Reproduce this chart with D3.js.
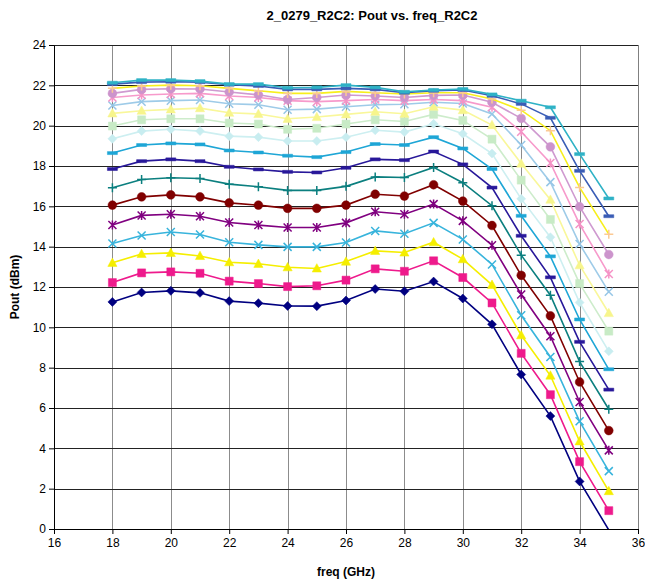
<!DOCTYPE html>
<html>
<head>
<meta charset="utf-8">
<script src="https://cdnjs.cloudflare.com/ajax/libs/d3/7.8.5/d3.min.js"></script>
<style>
  body { margin: 0; background: #fff; }
  text { font-family: "Liberation Sans", Arial, sans-serif; }
</style>
</head>
<body>
<div id="chart"></div>
<script>
// Step 1: data
// =================================
var freqs = [18, 19, 20, 21, 22, 23, 24, 25, 26, 27, 28, 29, 30, 31, 32, 33, 34, 35];
var xTicks = [16, 18, 20, 22, 24, 26, 28, 30, 32, 34, 36];
var yTicks = [0, 2, 4, 6, 8, 10, 12, 14, 16, 18, 20, 22, 24];

var s01 = [11.26, 11.73, 11.81, 11.71, 11.30, 11.20, 11.06, 11.05, 11.33, 11.90, 11.79, 12.27, 11.43, 10.15, 7.66, 5.60, 2.36, -0.05];
var s02 = [12.22, 12.70, 12.75, 12.68, 12.29, 12.17, 12.02, 12.06, 12.34, 12.90, 12.78, 13.30, 12.47, 11.21, 8.71, 6.66, 3.34, 0.91];
var s03 = [13.20, 13.64, 13.69, 13.54, 13.23, 13.15, 12.98, 12.92, 13.26, 13.79, 13.71, 14.22, 13.38, 12.11, 9.61, 7.61, 4.35, 1.88];
var s04 = [14.16, 14.55, 14.73, 14.60, 14.22, 14.09, 13.99, 13.99, 14.21, 14.78, 14.64, 15.18, 14.36, 13.12, 10.60, 8.53, 5.34, 2.87];
var s05 = [15.07, 15.55, 15.61, 15.51, 15.20, 15.07, 14.95, 14.95, 15.18, 15.73, 15.61, 16.11, 15.28, 14.07, 11.63, 9.56, 6.30, 3.90];
var s06 = [16.06, 16.47, 16.57, 16.47, 16.17, 16.06, 15.90, 15.90, 16.06, 16.60, 16.51, 17.07, 16.26, 15.05, 12.58, 10.57, 7.29, 4.88];
var s07 = [16.92, 17.33, 17.42, 17.38, 17.10, 16.97, 16.79, 16.79, 16.99, 17.46, 17.43, 17.93, 17.17, 16.03, 13.58, 11.59, 8.30, 5.94];
var s08 = [17.85, 18.24, 18.33, 18.24, 17.96, 17.83, 17.71, 17.68, 17.91, 18.33, 18.29, 18.72, 18.08, 16.93, 14.54, 12.48, 9.28, 6.91];
var s09 = [18.64, 19.04, 19.12, 19.07, 18.77, 18.67, 18.51, 18.44, 18.69, 19.09, 19.04, 19.43, 18.87, 17.85, 15.53, 13.52, 10.39, 7.92];
var s10 = [19.35, 19.73, 19.82, 19.73, 19.48, 19.43, 19.24, 19.24, 19.43, 19.77, 19.68, 20.09, 19.60, 18.62, 16.37, 14.47, 11.23, 8.81];
var s11 = [19.98, 20.29, 20.34, 20.34, 20.13, 20.08, 19.82, 19.87, 20.08, 20.29, 20.21, 20.56, 20.26, 19.33, 17.30, 15.35, 12.17, 9.81];
var s12 = [20.61, 20.74, 20.81, 20.87, 20.64, 20.58, 20.34, 20.43, 20.56, 20.69, 20.59, 20.94, 20.77, 20.03, 18.12, 16.33, 13.08, 10.71];
var s13 = [21.00, 21.19, 21.24, 21.27, 21.09, 21.04, 20.79, 20.82, 20.94, 21.04, 21.06, 21.16, 21.10, 20.58, 19.04, 17.20, 14.13, 11.76];
var s14 = [21.40, 21.52, 21.57, 21.60, 21.47, 21.40, 21.24, 21.19, 21.24, 21.30, 21.24, 21.30, 21.24, 20.91, 19.70, 18.15, 15.12, 12.64];
var s15 = [21.60, 21.80, 21.83, 21.82, 21.67, 21.53, 21.30, 21.40, 21.52, 21.47, 21.40, 21.50, 21.52, 21.16, 20.36, 18.95, 15.98, 13.61];
var s16 = [21.85, 21.97, 22.01, 21.98, 21.85, 21.73, 21.60, 21.60, 21.70, 21.63, 21.57, 21.63, 21.63, 21.32, 20.77, 19.75, 16.94, 14.62];
var s17 = [22.06, 22.16, 22.18, 22.16, 22.03, 21.97, 21.80, 21.80, 21.85, 21.80, 21.63, 21.73, 21.77, 21.48, 21.08, 20.39, 17.76, 15.51];
var s18 = [22.13, 22.26, 22.26, 22.21, 22.06, 22.06, 21.88, 21.90, 22.01, 21.90, 21.68, 21.77, 21.82, 21.55, 21.24, 20.91, 18.59, 16.39];

var seriesValues = [s01, s02, s03, s04, s05, s06, s07, s08, s09, s10, s11, s12, s13, s14, s15, s16, s17, s18];

// line colour, marker colour, marker shape (excel-ish defaults)
var lineColors = ["#000080", "#ee1a8c", "#f5ee00", "#38b4dc", "#800080", "#800000", "#0b7f7f", "#28189a", "#1ea6d6",
                  "#cdeff1", "#cdeccb", "#f9f79a", "#9ecbe8", "#f79acb", "#cf9ad0", "#f7ef1c", "#3a5db6", "#2fb2c6"];
var markerColors = ["#000080", "#ee1a8c", "#f5ee00", "#38b4dc", "#800080", "#800000", "#0b7f7f", "#28189a", "#1ea6d6",
                    "#c8edf0", "#c8ebc6", "#f7f58c", "#96c6e6", "#f593c6", "#cc94cc", "#fbc994", "#3a5db6", "#2fb2c6"];
var markers = ["diamond", "square", "triangle", "x", "star", "circle", "plus", "dash", "dash",
               "diamond", "square", "triangle", "x", "star", "circle", "plus", "dash", "dash"];

// Step 2: chart setup
// =================================
var svgWidth = 645;
var svgHeight = 583;
var margin = { top: 45, right: 7, bottom: 54, left: 54 };
var width = svgWidth - margin.left - margin.right;
var height = svgHeight - margin.top - margin.bottom;

var svg = d3.select("#chart")
  .append("svg")
  .attr("width", svgWidth)
  .attr("height", svgHeight);

var chartGroup = svg.append("g")
  .attr("transform", `translate(${margin.left}, ${margin.top})`);

var xScale = d3.scaleLinear().domain([16, 36]).range([0, width]);
var yScale = d3.scaleLinear().domain([0, 24]).range([height, 0]);

// gridlines
chartGroup.selectAll(".vgrid")
  .data(xTicks.slice(1, -1))
  .enter()
  .append("line")
  .attr("x1", d => Math.round(xScale(d)) + 0.5)
  .attr("x2", d => Math.round(xScale(d)) + 0.5)
  .attr("y1", 0)
  .attr("y2", height)
  .attr("stroke", "#8c8c8c")
  .attr("stroke-width", 1);

chartGroup.append("rect")
  .attr("x", 0.5)
  .attr("y", 0.5)
  .attr("width", width)
  .attr("height", height)
  .attr("fill", "none")
  .attr("stroke", "#808080");

chartGroup.selectAll(".hgrid")
  .data(yTicks.slice(1))
  .enter()
  .append("line")
  .attr("x1", 0)
  .attr("x2", width)
  .attr("y1", d => Math.round(yScale(d)) + 0.5)
  .attr("y2", d => Math.round(yScale(d)) + 0.5)
  .attr("stroke", "#222")
  .attr("stroke-width", 1);

// axes
var bottomAxis = d3.axisBottom(xScale).tickValues(xTicks).tickSize(5).tickSizeOuter(0).tickPadding(4);
var leftAxis = d3.axisLeft(yScale).tickValues(yTicks).tickSize(5).tickSizeOuter(0).tickPadding(3);

var xAxisG = chartGroup.append("g")
  .attr("transform", `translate(0, ${height})`)
  .call(bottomAxis);
var yAxisG = chartGroup.append("g")
  .call(leftAxis);

[xAxisG, yAxisG].forEach(function (g) {
  g.select(".domain").attr("stroke", "#000");
  g.selectAll(".tick line").attr("stroke", "#000");
  g.selectAll(".tick text")
    .attr("font-size", "12px")
    .attr("font-family", "Liberation Sans, Arial, sans-serif")
    .attr("fill", "#000");
});

// Step 3: lines and markers
// =================================
svg.append("defs").append("clipPath")
  .attr("id", "plotClip")
  .append("rect")
  .attr("width", width)
  .attr("height", height);

var line = d3.line()
  .x((d, i) => xScale(freqs[i]))
  .y(d => yScale(d));

function markerPath(type) {
  switch (type) {
    case "diamond": return "M0,-4.5L4.5,0L0,4.5L-4.5,0Z";
    case "square": return "M-4,-4H4V4H-4Z";
    case "triangle": return "M0,-4.8L4.6,3.6H-4.6Z";
    case "circle": return d3.symbol(d3.symbolCircle, 60)();
    case "x": return "M-4,-4L4,4M-4,4L4,-4";
    case "star": return "M-4,-4L4,4M-4,4L4,-4M0,-4.5V4.5";
    case "plus": return "M-4.5,0H4.5M0,-4.5V4.5";
    case "dash": return "M-5,-1.5H5V1.5H-5Z";
  }
}

var filled = { diamond: true, square: true, triangle: true, circle: true, dash: true };

seriesValues.forEach(function (vals, k) {
  var g = chartGroup.append("g");

  g.append("path")
    .datum(vals)
    .attr("clip-path", "url(#plotClip)")
    .attr("d", line)
    .attr("fill", "none")
    .attr("stroke", lineColors[k])
    .attr("stroke-width", 1.6);

  var type = markers[k];
  g.selectAll(".marker")
    .data(vals.map((v, i) => ({ f: freqs[i], v: v })).filter(d => d.v >= 0))
    .enter()
    .append("path")
    .attr("transform", d => `translate(${xScale(d.f)}, ${yScale(d.v)})`)
    .attr("d", markerPath(type))
    .attr("fill", filled[type] ? markerColors[k] : "none")
    .attr("stroke", markerColors[k])
    .attr("stroke-width", filled[type] ? 0.5 : 1.5);
});

// Step 4: titles
// =================================
svg.append("text")
  .attr("x", 372)
  .attr("y", 20)
  .attr("text-anchor", "middle")
  .attr("font-size", "13px")
  .attr("font-weight", "bold")
  .text("2_0279_R2C2: Pout vs. freq_R2C2");

svg.append("text")
  .attr("x", margin.left + width / 2)
  .attr("y", 576)
  .attr("text-anchor", "middle")
  .attr("font-size", "12px")
  .attr("font-weight", "bold")
  .text("freq (GHz)");

svg.append("text")
  .attr("transform", `translate(19, ${margin.top + height / 2}) rotate(-90)`)
  .attr("text-anchor", "middle")
  .attr("font-size", "12px")
  .attr("font-weight", "bold")
  .text("Pout (dBm)");
</script>
</body>
</html>
